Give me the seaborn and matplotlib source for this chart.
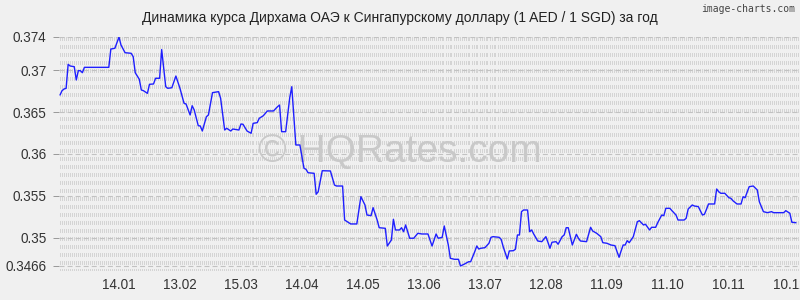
import matplotlib
matplotlib.use('Agg')
import matplotlib.pyplot as plt
import seaborn as sns
import numpy as np
import pandas as pd
from matplotlib.collections import LineCollection

# ---- data (day offset from 16.12, rate AED/SGD) ----
days = [0, 1, 2, 3, 4, 5, 7, 8, 9, 10, 11, 12, 24, 25, 27, 29, 30, 32, 35, 36,
        37, 39, 40, 41, 43, 44, 46, 47, 49, 50, 52, 53, 55, 57, 59, 61, 62, 64, 65, 66,
        68, 69, 70, 72, 73, 75, 78, 79, 81, 82, 84, 85, 88, 89, 90, 92, 94, 95, 97, 98,
        100, 102, 105, 107, 108, 109, 111, 113, 114, 116, 118, 120, 121, 122, 125, 126, 127, 129, 133, 135,
        136, 139, 140, 143, 146, 148, 150, 151, 153, 154, 156, 157, 160, 161, 163, 164, 165, 167, 168, 169,
        170, 172, 174, 176, 178, 181, 183, 185, 186, 188, 189, 191, 192, 194, 196, 197, 199, 201, 202, 204,
        205, 206, 207, 209, 211, 212, 213, 216, 217, 218, 220, 221, 223, 224, 225, 226, 227, 228, 230, 231,
        232, 233, 235, 237, 239, 240, 241, 242, 244, 245, 247, 248, 249, 250, 252, 254, 255, 256, 259, 261,
        262, 264, 266, 267, 269, 271, 273, 274, 275, 276, 277, 278, 279, 280, 282, 284, 285, 287, 288, 290,
        291, 293, 294, 296, 297, 298, 300, 301, 303, 304, 307, 308, 309, 311, 312, 314, 316, 317, 318, 319,
        322, 323, 324, 325, 327, 329, 330, 331, 333, 335, 336, 337, 339, 341, 343, 344, 346, 348, 350, 351,
        356, 357, 359, 360, 362]
rates = [0.36706, 0.36758, 0.36778, 0.36786, 0.37073, 0.37053, 0.37045, 0.36886, 0.36997, 0.36997,
         0.36973, 0.37037, 0.37037, 0.37256, 0.37265, 0.37400, 0.37304, 0.37212, 0.37205, 0.37164,
         0.36973, 0.36894, 0.36766, 0.36758, 0.36726, 0.36834, 0.36838, 0.36906, 0.36906, 0.37250,
         0.36805, 0.36786, 0.36793, 0.36933, 0.36786, 0.36607, 0.36598, 0.36467, 0.36578, 0.36527,
         0.36339, 0.36335, 0.36275, 0.36446, 0.36467, 0.36734, 0.36746, 0.36667, 0.36287, 0.36308,
         0.36275, 0.36299, 0.36287, 0.36359, 0.36356, 0.36275, 0.36248, 0.36367, 0.36375, 0.36427,
         0.36458, 0.36515, 0.36515, 0.36566, 0.36586, 0.36267, 0.36267, 0.36674, 0.36805, 0.36108,
         0.36108, 0.35829, 0.35817, 0.35776, 0.35769, 0.35518, 0.35549, 0.35800, 0.35797, 0.35629,
         0.35617, 0.35617, 0.35210, 0.35163, 0.35163, 0.35489, 0.35390, 0.35270, 0.35262, 0.35358,
         0.35210, 0.35118, 0.35111, 0.34899, 0.34971, 0.35219, 0.35091, 0.35091, 0.35118, 0.35070,
         0.35151, 0.34992, 0.34992, 0.35051, 0.35043, 0.35043, 0.34899, 0.35043, 0.34992, 0.35003,
         0.35139, 0.34911, 0.34752, 0.34740, 0.34740, 0.34660, 0.34684, 0.34711, 0.34711, 0.34831,
         0.34899, 0.34863, 0.34872, 0.34879, 0.34932, 0.35003, 0.35011, 0.35003, 0.34979, 0.34891,
         0.34744, 0.34840, 0.34843, 0.34860, 0.35031, 0.35031, 0.35310, 0.35330, 0.35330, 0.35070,
         0.35091, 0.35043, 0.34959, 0.34951, 0.35011, 0.34944, 0.34872, 0.34944, 0.34951, 0.34920,
         0.35011, 0.35031, 0.35118, 0.35118, 0.34911, 0.35039, 0.34992, 0.34959, 0.34951, 0.35123,
         0.35079, 0.35051, 0.35011, 0.34939, 0.34932, 0.34911, 0.34903, 0.34831, 0.34764, 0.34840,
         0.34911, 0.34911, 0.34963, 0.34939, 0.35011, 0.35190, 0.35202, 0.35151, 0.35159, 0.35091,
         0.35123, 0.35123, 0.35178, 0.35270, 0.35262, 0.35350, 0.35350, 0.35322, 0.35270, 0.35210,
         0.35210, 0.35231, 0.35342, 0.35390, 0.35378, 0.35370, 0.35270, 0.35279, 0.35338, 0.35402,
         0.35402, 0.35581, 0.35549, 0.35530, 0.35530, 0.35477, 0.35470, 0.35441, 0.35402, 0.35402,
         0.35489, 0.35477, 0.35609, 0.35617, 0.35569, 0.35429, 0.35310, 0.35298, 0.35310, 0.35298,
         0.35298, 0.35322, 0.35291, 0.35183, 0.35178]

tick_days = [29, 59, 89, 119, 149, 179, 209, 239, 269, 299, 329, 359]
tick_labels = ['14.01', '13.02', '15.03', '14.04', '14.05', '13.06',
               '13.07', '12.08', '11.09', '11.10', '10.11', '10.12']
y_ticks = [0.3466, 0.35, 0.355, 0.36, 0.365, 0.37, 0.374]
y_tick_labels = ['0.3466', '0.35', '0.355', '0.36', '0.365', '0.37', '0.374']
title = 'Динамика курса Дирхама ОАЭ к Сингапурскому доллару (1 AED / 1 SGD) за год'
watermark = '© HQRates.com'
credit = 'image-charts.com'

sns.set_style('white')
plt.rcParams['font.family'] = ['Liberation Sans', 'DejaVu Sans']
plt.rcParams['lines.scale_dashes'] = False

BG = '#f0f0f0'
W, H = 800, 300
fig = plt.figure(figsize=(8, 3), dpi=100, facecolor=BG)
ax_l, ax_t, ax_r, ax_b = 59, 37, 800, 271
ax = fig.add_axes([ax_l / W, 1 - ax_b / H, (ax_r - ax_l) / W, (ax_b - ax_t) / H])
ax.set_facecolor(BG)
for s in ax.spines.values():
    s.set_visible(False)
ax.grid(False)

# dense dotted vertical grid (one line every 2 px, dashes give the rows)
aw = ax_r - ax_l
ah = ax_b - ax_t
xs = (0.5 + 2 * np.arange(aw // 2 + 1)) / aw
segs = [[(x, 1.0), (x, 0.0)] for x in xs]
step_px = 0.001 / 0.028 * ah
on_pt = 4 * 0.72
off_pt = (step_px - 4) * 0.72
lc = LineCollection(segs, transform=ax.transAxes, colors='#d4d4d4', linewidths=0.72,
                    linestyles=[(0, (on_pt, off_pt))], antialiased=False, zorder=0.5)
ax.add_collection(lc)

for yt in y_ticks:
    ax.axhline(yt, color='#c2c2c2', lw=0.8, ls=(0, (3.6, 2.2)), zorder=0.6)

ax.text(0.5, 1 - 162 / H, watermark, transform=fig.transFigure, ha='center', va='baseline',
        fontsize=28, color='#c9c9c9', zorder=1)

df = pd.DataFrame({'day': days, 'rate': rates})
sns.lineplot(data=df, x='day', y='rate', ax=ax, color='#1f1fff', lw=1.0, estimator=None, zorder=3)

ax.set_xlim(-0.5, 364)
ax.set_ylim(0.346, 0.374)
ax.set_xticks(tick_days, tick_labels)
ax.set_yticks(y_ticks, y_tick_labels)
ax.set_xlabel('')
ax.set_ylabel('')
ax.tick_params(axis='x', length=0, pad=5, labelsize=9.75, labelcolor='#333333')
ax.tick_params(axis='y', length=4, width=0.7, color='#999999', pad=5, labelsize=9.75,
               labelcolor='#333333', left=True)

fig.text(0.5, 1 - 18 / H, title, ha='center', va='center', fontsize=10, color='#222222')
fig.text(0.994, 1 - 9 / H, credit, ha='right', va='center', fontsize=7, color='#444444',
         family='DejaVu Sans Mono')

fig.savefig('out.png', dpi=100, facecolor=BG)
